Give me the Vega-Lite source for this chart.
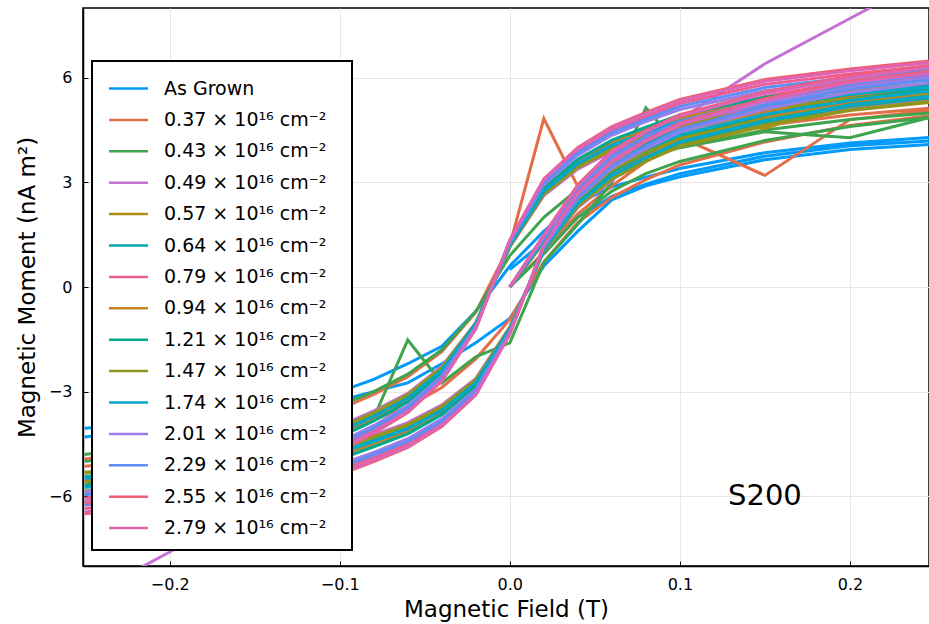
{
"$schema": "https://vega.github.io/schema/vega-lite/v6.json",
"width": 846, "height": 558,
"autosize": {"type": "none"},
"padding": {"left": 83, "top": 8, "right": 0, "bottom": 58},
"background": "white",
"config": {
  "font": "DejaVu Sans",
  "view": {"stroke": "black", "strokeWidth": 1.5},
  "legend": {"strokeWidth": 2},
  "axis": {"grid": true, "gridColor": "#e6e6e6", "gridWidth": 1, "domainColor": "black", "domainWidth": 1.5, "tickColor": "black", "tickSize": -5, "labelFont": "DejaVu Sans", "labelFontSize": 16, "labelColor": "black", "titleFont": "DejaVu Sans", "titleFontSize": 23, "titleFontWeight": "normal", "titleColor": "black"}
},
"layer": [
{
"data": {"values": [
{"s":"AG","x":0,"y":0.5},{"s":"AG","x":0.02,"y":1.3},{"s":"AG","x":0.04,"y":2.0},{"s":"AG","x":0.06,"y":2.6},{"s":"AG","x":0.08,"y":2.95},{"s":"AG","x":0.1,"y":3.25},{"s":"AG","x":0.15,"y":3.75},{"s":"AG","x":0.2,"y":4.05},{"s":"AG","x":0.25,"y":4.2},
{"s":"AG","x":0.25,"y":4.3},{"s":"AG","x":0.2,"y":4.13},{"s":"AG","x":0.15,"y":3.85},{"s":"AG","x":0.1,"y":3.4},{"s":"AG","x":0.08,"y":3.15},{"s":"AG","x":0.06,"y":2.87},{"s":"AG","x":0.04,"y":2.4},{"s":"AG","x":0.02,"y":1.6},{"s":"AG","x":0,"y":0.6},{"s":"AG","x":-0.02,"y":-0.7},{"s":"AG","x":-0.04,"y":-1.7},{"s":"AG","x":-0.06,"y":-2.2},{"s":"AG","x":-0.08,"y":-2.65},{"s":"AG","x":-0.1,"y":-3.0},{"s":"AG","x":-0.15,"y":-3.5},{"s":"AG","x":-0.2,"y":-3.85},{"s":"AG","x":-0.25,"y":-4.05},
{"s":"AG","b":"a","x":-0.25,"y":-4.3},{"s":"AG","b":"a","x":-0.2,"y":-4.0},{"s":"AG","b":"a","x":-0.15,"y":-3.7},{"s":"AG","b":"a","x":-0.1,"y":-3.25},{"s":"AG","b":"a","x":-0.08,"y":-3.0},{"s":"AG","b":"a","x":-0.06,"y":-2.75},{"s":"AG","b":"a","x":-0.04,"y":-2.2},{"s":"AG","b":"a","x":-0.02,"y":-1.6},{"s":"AG","b":"a","x":0,"y":-0.9},{"s":"AG","b":"a","x":0.02,"y":0.6},{"s":"AG","b":"a","x":0.04,"y":1.6},{"s":"AG","b":"a","x":0.06,"y":2.5},{"s":"AG","b":"a","x":0.08,"y":2.9},{"s":"AG","b":"a","x":0.1,"y":3.16},{"s":"AG","b":"a","x":0.15,"y":3.65},{"s":"AG","b":"a","x":0.2,"y":3.94},{"s":"AG","b":"a","x":0.25,"y":4.1},

{"s":"0.37","x":0,"y":0},{"s":"0.37","x":0.02,"y":1.0},{"s":"0.37","x":0.04,"y":2.1},{"s":"0.37","x":0.06,"y":2.9},{"s":"0.37","x":0.08,"y":3.6},{"s":"0.37","x":0.1,"y":4.3},{"s":"0.37","x":0.15,"y":3.2},{"s":"0.37","x":0.2,"y":4.8},{"s":"0.37","x":0.25,"y":5.08},
{"s":"0.37","x":0.25,"y":5.14},{"s":"0.37","x":0.2,"y":4.93},{"s":"0.37","x":0.15,"y":4.63},{"s":"0.37","x":0.1,"y":4.11},{"s":"0.37","x":0.08,"y":3.8},{"s":"0.37","x":0.06,"y":3.44},{"s":"0.37","x":0.04,"y":2.88},{"s":"0.37","x":0.02,"y":4.83},{"s":"0.37","x":0,"y":1.2},{"s":"0.37","x":-0.02,"y":-0.72},{"s":"0.37","x":-0.04,"y":-1.85},{"s":"0.37","x":-0.06,"y":-2.57},{"s":"0.37","x":-0.08,"y":-3.08},{"s":"0.37","x":-0.1,"y":-3.5},{"s":"0.37","x":-0.15,"y":-4.16},{"s":"0.37","x":-0.2,"y":-4.63},{"s":"0.37","x":-0.25,"y":-4.93},
{"s":"0.37","b":"a","x":-0.25,"y":-5.14},{"s":"0.37","b":"a","x":-0.2,"y":-4.93},{"s":"0.37","b":"a","x":-0.15,"y":-4.63},{"s":"0.37","b":"a","x":-0.1,"y":-4.11},{"s":"0.37","b":"a","x":-0.08,"y":-3.8},{"s":"0.37","b":"a","x":-0.06,"y":-3.44},{"s":"0.37","b":"a","x":-0.04,"y":-2.88},{"s":"0.37","b":"a","x":-0.02,"y":-2.06},{"s":"0.37","b":"a","x":0,"y":-0.93},{"s":"0.37","b":"a","x":0.02,"y":0.72},{"s":"0.37","b":"a","x":0.04,"y":1.85},{"s":"0.37","b":"a","x":0.06,"y":2.57},{"s":"0.37","b":"a","x":0.08,"y":3.08},{"s":"0.37","b":"a","x":0.1,"y":3.5},{"s":"0.37","b":"a","x":0.15,"y":4.16},{"s":"0.37","b":"a","x":0.2,"y":4.63},{"s":"0.37","b":"a","x":0.25,"y":4.93},

{"s":"0.43","x":0,"y":0},{"s":"0.43","x":0.02,"y":0.95},{"s":"0.43","x":0.04,"y":2.0},{"s":"0.43","x":0.06,"y":2.75},{"s":"0.43","x":0.08,"y":3.25},{"s":"0.43","x":0.1,"y":3.6},{"s":"0.43","x":0.15,"y":4.2},{"s":"0.43","x":0.2,"y":4.6},{"s":"0.43","x":0.25,"y":4.88},
{"s":"0.43","x":0.25,"y":5.0},{"s":"0.43","x":0.2,"y":4.8},{"s":"0.43","x":0.15,"y":4.5},{"s":"0.43","x":0.1,"y":4.0},{"s":"0.43","x":0.08,"y":3.7},{"s":"0.43","x":0.06,"y":3.35},{"s":"0.43","x":0.04,"y":2.8},{"s":"0.43","x":0.02,"y":2.0},{"s":"0.43","x":0,"y":0.9},{"s":"0.43","x":-0.02,"y":-0.7},{"s":"0.43","x":-0.04,"y":-1.8},{"s":"0.43","x":-0.06,"y":-2.5},{"s":"0.43","x":-0.08,"y":-3.0},{"s":"0.43","x":-0.1,"y":-3.4},{"s":"0.43","x":-0.15,"y":-4.05},{"s":"0.43","x":-0.2,"y":-4.5},{"s":"0.43","x":-0.25,"y":-4.8},
{"s":"0.43","b":"a","x":-0.25,"y":-5.0},{"s":"0.43","b":"a","x":-0.2,"y":-4.8},{"s":"0.43","b":"a","x":-0.15,"y":-4.5},{"s":"0.43","b":"a","x":-0.1,"y":-4.0},{"s":"0.43","b":"a","x":-0.08,"y":-3.75},{"s":"0.43","b":"a","x":-0.06,"y":-1.52},{"s":"0.43","b":"a","x":-0.04,"y":-2.75},{"s":"0.43","b":"a","x":-0.02,"y":-2.0},{"s":"0.43","b":"a","x":0,"y":-1.6},{"s":"0.43","b":"a","x":0.02,"y":0.7},{"s":"0.43","b":"a","x":0.04,"y":1.8},{"s":"0.43","b":"a","x":0.06,"y":3.0},{"s":"0.43","b":"a","x":0.08,"y":5.14},{"s":"0.43","b":"a","x":0.1,"y":4.0},{"s":"0.43","b":"a","x":0.15,"y":4.45},{"s":"0.43","b":"a","x":0.2,"y":4.28},{"s":"0.43","b":"a","x":0.25,"y":4.9},

{"s":"0.49","x":0,"y":0},{"s":"0.49","x":0.02,"y":1.27},{"s":"0.49","x":0.04,"y":2.48},{"s":"0.49","x":0.06,"y":3.3},{"s":"0.49","x":0.08,"y":3.8},{"s":"0.49","x":0.1,"y":4.18},{"s":"0.49","x":0.15,"y":4.73},{"s":"0.49","x":0.2,"y":5.12},{"s":"0.49","x":0.25,"y":5.39},
{"s":"0.49","x":0.25,"y":5.5},{"s":"0.49","x":0.2,"y":5.29},{"s":"0.49","x":0.15,"y":5.03},{"s":"0.49","x":0.1,"y":4.55},{"s":"0.49","x":0.08,"y":4.24},{"s":"0.49","x":0.06,"y":3.89},{"s":"0.49","x":0.04,"y":3.38},{"s":"0.49","x":0.02,"y":2.62},{"s":"0.49","x":0,"y":1.14},{"s":"0.49","x":-0.02,"y":-1.02},{"s":"0.49","x":-0.04,"y":-2.28},{"s":"0.49","x":-0.06,"y":-3.05},{"s":"0.49","x":-0.08,"y":-3.55},{"s":"0.49","x":-0.1,"y":-3.98},{"s":"0.49","x":-0.15,"y":-4.7},{"s":"0.49","x":-0.2,"y":-5.2},{"s":"0.49","x":-0.25,"y":-5.5},
{"s":"0.49","b":"a","x":-0.25,"y":-8.9},{"s":"0.49","b":"a","x":-0.2,"y":-7.6},{"s":"0.49","b":"a","x":-0.15,"y":-6.3},{"s":"0.49","b":"a","x":-0.1,"y":-4.55},{"s":"0.49","b":"a","x":-0.08,"y":-4.24},{"s":"0.49","b":"a","x":-0.06,"y":-3.89},{"s":"0.49","b":"a","x":-0.04,"y":-3.38},{"s":"0.49","b":"a","x":-0.02,"y":-2.62},{"s":"0.49","b":"a","x":0,"y":-1.14},{"s":"0.49","b":"a","x":0.02,"y":1.02},{"s":"0.49","b":"a","x":0.04,"y":2.28},{"s":"0.49","b":"a","x":0.06,"y":3.05},{"s":"0.49","b":"a","x":0.08,"y":3.9},{"s":"0.49","b":"a","x":0.1,"y":4.8},{"s":"0.49","b":"a","x":0.15,"y":6.4},{"s":"0.49","b":"a","x":0.2,"y":7.7},{"s":"0.49","b":"a","x":0.25,"y":9.0},

{"s":"0.57","x":0,"y":0},{"s":"0.57","x":0.02,"y":1.28},{"s":"0.57","x":0.04,"y":2.51},{"s":"0.57","x":0.06,"y":3.34},{"s":"0.57","x":0.08,"y":3.84},{"s":"0.57","x":0.1,"y":4.7},{"s":"0.57","x":0.15,"y":4.55},{"s":"0.57","x":0.2,"y":5.3},{"s":"0.57","x":0.25,"y":5.5},
{"s":"0.57","x":0.25,"y":5.57},{"s":"0.57","x":0.2,"y":5.36},{"s":"0.57","x":0.15,"y":5.1},{"s":"0.57","x":0.1,"y":4.61},{"s":"0.57","x":0.08,"y":4.29},{"s":"0.57","x":0.06,"y":3.94},{"s":"0.57","x":0.04,"y":3.43},{"s":"0.57","x":0.02,"y":2.66},{"s":"0.57","x":0,"y":1.16},{"s":"0.57","x":-0.02,"y":-1.03},{"s":"0.57","x":-0.04,"y":-2.31},{"s":"0.57","x":-0.06,"y":-3.09},{"s":"0.57","x":-0.08,"y":-3.6},{"s":"0.57","x":-0.1,"y":-4.03},{"s":"0.57","x":-0.15,"y":-4.62},{"s":"0.57","x":-0.2,"y":-5.06},{"s":"0.57","x":-0.25,"y":-5.31},
{"s":"0.57","b":"a","x":-0.25,"y":-5.57},{"s":"0.57","b":"a","x":-0.2,"y":-5.36},{"s":"0.57","b":"a","x":-0.15,"y":-5.1},{"s":"0.57","b":"a","x":-0.1,"y":-4.61},{"s":"0.57","b":"a","x":-0.08,"y":-4.29},{"s":"0.57","b":"a","x":-0.06,"y":-3.94},{"s":"0.57","b":"a","x":-0.04,"y":-3.43},{"s":"0.57","b":"a","x":-0.02,"y":-2.66},{"s":"0.57","b":"a","x":0,"y":-1.16},{"s":"0.57","b":"a","x":0.02,"y":1.03},{"s":"0.57","b":"a","x":0.04,"y":2.31},{"s":"0.57","b":"a","x":0.06,"y":3.09},{"s":"0.57","b":"a","x":0.08,"y":3.6},{"s":"0.57","b":"a","x":0.1,"y":4.03},{"s":"0.57","b":"a","x":0.15,"y":4.62},{"s":"0.57","b":"a","x":0.2,"y":5.06},{"s":"0.57","b":"a","x":0.25,"y":5.31},

{"s":"0.64","x":0,"y":0},{"s":"0.64","x":0.02,"y":1.31},{"s":"0.64","x":0.04,"y":2.57},{"s":"0.64","x":0.06,"y":3.42},{"s":"0.64","x":0.08,"y":3.93},{"s":"0.64","x":0.1,"y":4.33},{"s":"0.64","x":0.15,"y":4.9},{"s":"0.64","x":0.2,"y":5.3},{"s":"0.64","x":0.25,"y":5.59},
{"s":"0.64","x":0.25,"y":5.7},{"s":"0.64","x":0.2,"y":5.48},{"s":"0.64","x":0.15,"y":5.22},{"s":"0.64","x":0.1,"y":4.72},{"s":"0.64","x":0.08,"y":4.39},{"s":"0.64","x":0.06,"y":4.04},{"s":"0.64","x":0.04,"y":3.51},{"s":"0.64","x":0.02,"y":2.72},{"s":"0.64","x":0,"y":1.19},{"s":"0.64","x":-0.02,"y":-1.05},{"s":"0.64","x":-0.04,"y":-2.37},{"s":"0.64","x":-0.06,"y":-3.16},{"s":"0.64","x":-0.08,"y":-3.68},{"s":"0.64","x":-0.1,"y":-4.12},{"s":"0.64","x":-0.15,"y":-4.73},{"s":"0.64","x":-0.2,"y":-5.18},{"s":"0.64","x":-0.25,"y":-5.44},
{"s":"0.64","b":"a","x":-0.25,"y":-5.7},{"s":"0.64","b":"a","x":-0.2,"y":-5.48},{"s":"0.64","b":"a","x":-0.15,"y":-5.22},{"s":"0.64","b":"a","x":-0.1,"y":-4.72},{"s":"0.64","b":"a","x":-0.08,"y":-4.39},{"s":"0.64","b":"a","x":-0.06,"y":-4.04},{"s":"0.64","b":"a","x":-0.04,"y":-3.51},{"s":"0.64","b":"a","x":-0.02,"y":-2.72},{"s":"0.64","b":"a","x":0,"y":-1.19},{"s":"0.64","b":"a","x":0.02,"y":1.05},{"s":"0.64","b":"a","x":0.04,"y":2.37},{"s":"0.64","b":"a","x":0.06,"y":3.16},{"s":"0.64","b":"a","x":0.08,"y":3.68},{"s":"0.64","b":"a","x":0.1,"y":4.12},{"s":"0.64","b":"a","x":0.15,"y":4.73},{"s":"0.64","b":"a","x":0.2,"y":5.18},{"s":"0.64","b":"a","x":0.25,"y":5.44},

{"s":"0.79","x":0,"y":0},{"s":"0.79","x":0.02,"y":1.46},{"s":"0.79","x":0.04,"y":2.86},{"s":"0.79","x":0.06,"y":3.81},{"s":"0.79","x":0.08,"y":4.38},{"s":"0.79","x":0.1,"y":4.83},{"s":"0.79","x":0.15,"y":5.46},{"s":"0.79","x":0.2,"y":5.91},{"s":"0.79","x":0.25,"y":6.22},
{"s":"0.79","x":0.25,"y":6.35},{"s":"0.79","x":0.2,"y":6.11},{"s":"0.79","x":0.15,"y":5.81},{"s":"0.79","x":0.1,"y":5.26},{"s":"0.79","x":0.08,"y":4.89},{"s":"0.79","x":0.06,"y":4.5},{"s":"0.79","x":0.04,"y":3.91},{"s":"0.79","x":0.02,"y":3.03},{"s":"0.79","x":0,"y":1.32},{"s":"0.79","x":-0.02,"y":-1.17},{"s":"0.79","x":-0.04,"y":-2.64},{"s":"0.79","x":-0.06,"y":-3.52},{"s":"0.79","x":-0.08,"y":-4.1},{"s":"0.79","x":-0.1,"y":-4.59},{"s":"0.79","x":-0.15,"y":-5.27},{"s":"0.79","x":-0.2,"y":-5.77},{"s":"0.79","x":-0.25,"y":-6.06},
{"s":"0.79","b":"a","x":-0.25,"y":-6.35},{"s":"0.79","b":"a","x":-0.2,"y":-6.11},{"s":"0.79","b":"a","x":-0.15,"y":-5.81},{"s":"0.79","b":"a","x":-0.1,"y":-5.26},{"s":"0.79","b":"a","x":-0.08,"y":-4.89},{"s":"0.79","b":"a","x":-0.06,"y":-4.5},{"s":"0.79","b":"a","x":-0.04,"y":-3.91},{"s":"0.79","b":"a","x":-0.02,"y":-3.03},{"s":"0.79","b":"a","x":0,"y":-1.32},{"s":"0.79","b":"a","x":0.02,"y":1.17},{"s":"0.79","b":"a","x":0.04,"y":2.64},{"s":"0.79","b":"a","x":0.06,"y":3.52},{"s":"0.79","b":"a","x":0.08,"y":4.1},{"s":"0.79","b":"a","x":0.1,"y":4.59},{"s":"0.79","b":"a","x":0.15,"y":5.27},{"s":"0.79","b":"a","x":0.2,"y":5.77},{"s":"0.79","b":"a","x":0.25,"y":6.06},

{"s":"0.94","x":0,"y":0},{"s":"0.94","x":0.02,"y":1.35},{"s":"0.94","x":0.04,"y":2.63},{"s":"0.94","x":0.06,"y":3.51},{"s":"0.94","x":0.08,"y":4.04},{"s":"0.94","x":0.1,"y":4.45},{"s":"0.94","x":0.15,"y":5.03},{"s":"0.94","x":0.2,"y":5.44},{"s":"0.94","x":0.25,"y":5.73},
{"s":"0.94","x":0.25,"y":5.85},{"s":"0.94","x":0.2,"y":5.63},{"s":"0.94","x":0.15,"y":5.35},{"s":"0.94","x":0.1,"y":4.84},{"s":"0.94","x":0.08,"y":4.5},{"s":"0.94","x":0.06,"y":4.14},{"s":"0.94","x":0.04,"y":3.6},{"s":"0.94","x":0.02,"y":2.79},{"s":"0.94","x":0,"y":1.22},{"s":"0.94","x":-0.02,"y":-1.08},{"s":"0.94","x":-0.04,"y":-2.43},{"s":"0.94","x":-0.06,"y":-3.24},{"s":"0.94","x":-0.08,"y":-3.78},{"s":"0.94","x":-0.1,"y":-4.23},{"s":"0.94","x":-0.15,"y":-4.86},{"s":"0.94","x":-0.2,"y":-5.31},{"s":"0.94","x":-0.25,"y":-5.58},
{"s":"0.94","b":"a","x":-0.25,"y":-5.85},{"s":"0.94","b":"a","x":-0.2,"y":-5.63},{"s":"0.94","b":"a","x":-0.15,"y":-5.35},{"s":"0.94","b":"a","x":-0.1,"y":-4.84},{"s":"0.94","b":"a","x":-0.08,"y":-4.5},{"s":"0.94","b":"a","x":-0.06,"y":-4.14},{"s":"0.94","b":"a","x":-0.04,"y":-3.6},{"s":"0.94","b":"a","x":-0.02,"y":-2.79},{"s":"0.94","b":"a","x":0,"y":-1.22},{"s":"0.94","b":"a","x":0.02,"y":1.08},{"s":"0.94","b":"a","x":0.04,"y":2.43},{"s":"0.94","b":"a","x":0.06,"y":3.24},{"s":"0.94","b":"a","x":0.08,"y":3.78},{"s":"0.94","b":"a","x":0.1,"y":4.23},{"s":"0.94","b":"a","x":0.15,"y":4.86},{"s":"0.94","b":"a","x":0.2,"y":5.31},{"s":"0.94","b":"a","x":0.25,"y":5.58},

{"s":"1.21","x":0,"y":0},{"s":"1.21","x":0.02,"y":1.37},{"s":"1.21","x":0.04,"y":2.68},{"s":"1.21","x":0.06,"y":3.57},{"s":"1.21","x":0.08,"y":4.11},{"s":"1.21","x":0.1,"y":4.52},{"s":"1.21","x":0.15,"y":5.12},{"s":"1.21","x":0.2,"y":5.53},{"s":"1.21","x":0.25,"y":5.83},
{"s":"1.21","x":0.25,"y":5.95},{"s":"1.21","x":0.2,"y":5.72},{"s":"1.21","x":0.15,"y":5.44},{"s":"1.21","x":0.1,"y":4.93},{"s":"1.21","x":0.08,"y":4.58},{"s":"1.21","x":0.06,"y":4.21},{"s":"1.21","x":0.04,"y":3.66},{"s":"1.21","x":0.02,"y":2.84},{"s":"1.21","x":0,"y":1.24},{"s":"1.21","x":-0.02,"y":-1.1},{"s":"1.21","x":-0.04,"y":-2.47},{"s":"1.21","x":-0.06,"y":-3.3},{"s":"1.21","x":-0.08,"y":-3.84},{"s":"1.21","x":-0.1,"y":-4.3},{"s":"1.21","x":-0.15,"y":-4.94},{"s":"1.21","x":-0.2,"y":-5.4},{"s":"1.21","x":-0.25,"y":-5.68},
{"s":"1.21","b":"a","x":-0.25,"y":-5.95},{"s":"1.21","b":"a","x":-0.2,"y":-5.72},{"s":"1.21","b":"a","x":-0.15,"y":-5.44},{"s":"1.21","b":"a","x":-0.1,"y":-4.93},{"s":"1.21","b":"a","x":-0.08,"y":-4.58},{"s":"1.21","b":"a","x":-0.06,"y":-4.21},{"s":"1.21","b":"a","x":-0.04,"y":-3.66},{"s":"1.21","b":"a","x":-0.02,"y":-2.84},{"s":"1.21","b":"a","x":0,"y":-1.24},{"s":"1.21","b":"a","x":0.02,"y":1.1},{"s":"1.21","b":"a","x":0.04,"y":2.47},{"s":"1.21","b":"a","x":0.06,"y":3.3},{"s":"1.21","b":"a","x":0.08,"y":3.84},{"s":"1.21","b":"a","x":0.1,"y":4.3},{"s":"1.21","b":"a","x":0.15,"y":4.94},{"s":"1.21","b":"a","x":0.2,"y":5.4},{"s":"1.21","b":"a","x":0.25,"y":5.68},

{"s":"1.47","x":0,"y":0},{"s":"1.47","x":0.02,"y":1.29},{"s":"1.47","x":0.04,"y":2.52},{"s":"1.47","x":0.06,"y":3.36},{"s":"1.47","x":0.08,"y":3.86},{"s":"1.47","x":0.1,"y":4.26},{"s":"1.47","x":0.15,"y":4.82},{"s":"1.47","x":0.2,"y":5.21},{"s":"1.47","x":0.25,"y":5.49},
{"s":"1.47","x":0.25,"y":5.6},{"s":"1.47","x":0.2,"y":5.39},{"s":"1.47","x":0.15,"y":5.12},{"s":"1.47","x":0.1,"y":4.64},{"s":"1.47","x":0.08,"y":4.31},{"s":"1.47","x":0.06,"y":3.96},{"s":"1.47","x":0.04,"y":3.44},{"s":"1.47","x":0.02,"y":2.67},{"s":"1.47","x":0,"y":1.16},{"s":"1.47","x":-0.02,"y":-1.04},{"s":"1.47","x":-0.04,"y":-2.32},{"s":"1.47","x":-0.06,"y":-3.1},{"s":"1.47","x":-0.08,"y":-3.62},{"s":"1.47","x":-0.1,"y":-4.05},{"s":"1.47","x":-0.15,"y":-4.65},{"s":"1.47","x":-0.2,"y":-5.08},{"s":"1.47","x":-0.25,"y":-5.34},
{"s":"1.47","b":"a","x":-0.25,"y":-5.6},{"s":"1.47","b":"a","x":-0.2,"y":-5.39},{"s":"1.47","b":"a","x":-0.15,"y":-5.12},{"s":"1.47","b":"a","x":-0.1,"y":-4.64},{"s":"1.47","b":"a","x":-0.08,"y":-4.31},{"s":"1.47","b":"a","x":-0.06,"y":-3.96},{"s":"1.47","b":"a","x":-0.04,"y":-3.44},{"s":"1.47","b":"a","x":-0.02,"y":-2.67},{"s":"1.47","b":"a","x":0,"y":-1.16},{"s":"1.47","b":"a","x":0.02,"y":1.04},{"s":"1.47","b":"a","x":0.04,"y":2.32},{"s":"1.47","b":"a","x":0.06,"y":3.1},{"s":"1.47","b":"a","x":0.08,"y":3.62},{"s":"1.47","b":"a","x":0.1,"y":4.05},{"s":"1.47","b":"a","x":0.15,"y":4.65},{"s":"1.47","b":"a","x":0.2,"y":5.08},{"s":"1.47","b":"a","x":0.25,"y":5.34},

{"s":"1.74","x":0,"y":0},{"s":"1.74","x":0.02,"y":1.32},{"s":"1.74","x":0.04,"y":2.59},{"s":"1.74","x":0.06,"y":3.45},{"s":"1.74","x":0.08,"y":3.97},{"s":"1.74","x":0.1,"y":4.37},{"s":"1.74","x":0.15,"y":4.95},{"s":"1.74","x":0.2,"y":5.35},{"s":"1.74","x":0.25,"y":5.64},
{"s":"1.74","x":0.25,"y":5.75},{"s":"1.74","x":0.2,"y":5.53},{"s":"1.74","x":0.15,"y":5.26},{"s":"1.74","x":0.1,"y":4.76},{"s":"1.74","x":0.08,"y":4.43},{"s":"1.74","x":0.06,"y":4.07},{"s":"1.74","x":0.04,"y":3.54},{"s":"1.74","x":0.02,"y":2.74},{"s":"1.74","x":0,"y":1.2},{"s":"1.74","x":-0.02,"y":-1.06},{"s":"1.74","x":-0.04,"y":-2.39},{"s":"1.74","x":-0.06,"y":-3.19},{"s":"1.74","x":-0.08,"y":-3.71},{"s":"1.74","x":-0.1,"y":-4.16},{"s":"1.74","x":-0.15,"y":-4.77},{"s":"1.74","x":-0.2,"y":-5.22},{"s":"1.74","x":-0.25,"y":-5.49},
{"s":"1.74","b":"a","x":-0.25,"y":-5.75},{"s":"1.74","b":"a","x":-0.2,"y":-5.53},{"s":"1.74","b":"a","x":-0.15,"y":-5.26},{"s":"1.74","b":"a","x":-0.1,"y":-4.76},{"s":"1.74","b":"a","x":-0.08,"y":-4.43},{"s":"1.74","b":"a","x":-0.06,"y":-4.07},{"s":"1.74","b":"a","x":-0.04,"y":-3.54},{"s":"1.74","b":"a","x":-0.02,"y":-2.74},{"s":"1.74","b":"a","x":0,"y":-1.2},{"s":"1.74","b":"a","x":0.02,"y":1.06},{"s":"1.74","b":"a","x":0.04,"y":2.39},{"s":"1.74","b":"a","x":0.06,"y":3.19},{"s":"1.74","b":"a","x":0.08,"y":3.71},{"s":"1.74","b":"a","x":0.1,"y":4.16},{"s":"1.74","b":"a","x":0.15,"y":4.77},{"s":"1.74","b":"a","x":0.2,"y":5.22},{"s":"1.74","b":"a","x":0.25,"y":5.49},

{"s":"2.01","x":0,"y":0},{"s":"2.01","x":0.02,"y":1.41},{"s":"2.01","x":0.04,"y":2.77},{"s":"2.01","x":0.06,"y":3.69},{"s":"2.01","x":0.08,"y":4.24},{"s":"2.01","x":0.1,"y":4.67},{"s":"2.01","x":0.15,"y":5.29},{"s":"2.01","x":0.2,"y":5.72},{"s":"2.01","x":0.25,"y":6.03},
{"s":"2.01","x":0.25,"y":6.15},{"s":"2.01","x":0.2,"y":5.92},{"s":"2.01","x":0.15,"y":5.63},{"s":"2.01","x":0.1,"y":5.09},{"s":"2.01","x":0.08,"y":4.74},{"s":"2.01","x":0.06,"y":4.35},{"s":"2.01","x":0.04,"y":3.78},{"s":"2.01","x":0.02,"y":2.93},{"s":"2.01","x":0,"y":1.28},{"s":"2.01","x":-0.02,"y":-1.14},{"s":"2.01","x":-0.04,"y":-2.55},{"s":"2.01","x":-0.06,"y":-3.41},{"s":"2.01","x":-0.08,"y":-3.97},{"s":"2.01","x":-0.1,"y":-4.45},{"s":"2.01","x":-0.15,"y":-5.1},{"s":"2.01","x":-0.2,"y":-5.58},{"s":"2.01","x":-0.25,"y":-5.87},
{"s":"2.01","b":"a","x":-0.25,"y":-6.15},{"s":"2.01","b":"a","x":-0.2,"y":-5.92},{"s":"2.01","b":"a","x":-0.15,"y":-5.63},{"s":"2.01","b":"a","x":-0.1,"y":-5.09},{"s":"2.01","b":"a","x":-0.08,"y":-4.74},{"s":"2.01","b":"a","x":-0.06,"y":-4.35},{"s":"2.01","b":"a","x":-0.04,"y":-3.78},{"s":"2.01","b":"a","x":-0.02,"y":-2.93},{"s":"2.01","b":"a","x":0,"y":-1.28},{"s":"2.01","b":"a","x":0.02,"y":1.14},{"s":"2.01","b":"a","x":0.04,"y":2.55},{"s":"2.01","b":"a","x":0.06,"y":3.41},{"s":"2.01","b":"a","x":0.08,"y":3.97},{"s":"2.01","b":"a","x":0.1,"y":4.45},{"s":"2.01","b":"a","x":0.15,"y":5.1},{"s":"2.01","b":"a","x":0.2,"y":5.58},{"s":"2.01","b":"a","x":0.25,"y":5.87},

{"s":"2.29","x":0,"y":0},{"s":"2.29","x":0.02,"y":1.44},{"s":"2.29","x":0.04,"y":2.81},{"s":"2.29","x":0.06,"y":3.75},{"s":"2.29","x":0.08,"y":4.31},{"s":"2.29","x":0.1,"y":4.75},{"s":"2.29","x":0.15,"y":5.38},{"s":"2.29","x":0.2,"y":5.81},{"s":"2.29","x":0.25,"y":6.13},
{"s":"2.29","x":0.25,"y":6.25},{"s":"2.29","x":0.2,"y":6.01},{"s":"2.29","x":0.15,"y":5.72},{"s":"2.29","x":0.1,"y":5.18},{"s":"2.29","x":0.08,"y":4.81},{"s":"2.29","x":0.06,"y":4.43},{"s":"2.29","x":0.04,"y":3.84},{"s":"2.29","x":0.02,"y":2.98},{"s":"2.29","x":0,"y":1.3},{"s":"2.29","x":-0.02,"y":-1.16},{"s":"2.29","x":-0.04,"y":-2.59},{"s":"2.29","x":-0.06,"y":-3.46},{"s":"2.29","x":-0.08,"y":-4.04},{"s":"2.29","x":-0.1,"y":-4.52},{"s":"2.29","x":-0.15,"y":-5.19},{"s":"2.29","x":-0.2,"y":-5.68},{"s":"2.29","x":-0.25,"y":-5.96},
{"s":"2.29","b":"a","x":-0.25,"y":-6.25},{"s":"2.29","b":"a","x":-0.2,"y":-6.01},{"s":"2.29","b":"a","x":-0.15,"y":-5.72},{"s":"2.29","b":"a","x":-0.1,"y":-5.18},{"s":"2.29","b":"a","x":-0.08,"y":-4.81},{"s":"2.29","b":"a","x":-0.06,"y":-4.43},{"s":"2.29","b":"a","x":-0.04,"y":-3.84},{"s":"2.29","b":"a","x":-0.02,"y":-2.98},{"s":"2.29","b":"a","x":0,"y":-1.3},{"s":"2.29","b":"a","x":0.02,"y":1.16},{"s":"2.29","b":"a","x":0.04,"y":2.59},{"s":"2.29","b":"a","x":0.06,"y":3.46},{"s":"2.29","b":"a","x":0.08,"y":4.04},{"s":"2.29","b":"a","x":0.1,"y":4.52},{"s":"2.29","b":"a","x":0.15,"y":5.19},{"s":"2.29","b":"a","x":0.2,"y":5.68},{"s":"2.29","b":"a","x":0.25,"y":5.96},

{"s":"2.55","x":0,"y":0},{"s":"2.55","x":0.02,"y":1.5},{"s":"2.55","x":0.04,"y":2.93},{"s":"2.55","x":0.06,"y":3.9},{"s":"2.55","x":0.08,"y":4.49},{"s":"2.55","x":0.1,"y":4.94},{"s":"2.55","x":0.15,"y":5.59},{"s":"2.55","x":0.2,"y":6.05},{"s":"2.55","x":0.25,"y":6.37},
{"s":"2.55","x":0.25,"y":6.5},{"s":"2.55","x":0.2,"y":6.25},{"s":"2.55","x":0.15,"y":5.95},{"s":"2.55","x":0.1,"y":5.38},{"s":"2.55","x":0.08,"y":5.01},{"s":"2.55","x":0.06,"y":4.6},{"s":"2.55","x":0.04,"y":4.0},{"s":"2.55","x":0.02,"y":3.1},{"s":"2.55","x":0,"y":1.35},{"s":"2.55","x":-0.02,"y":-1.2},{"s":"2.55","x":-0.04,"y":-2.7},{"s":"2.55","x":-0.06,"y":-3.6},{"s":"2.55","x":-0.08,"y":-4.2},{"s":"2.55","x":-0.1,"y":-4.7},{"s":"2.55","x":-0.15,"y":-5.4},{"s":"2.55","x":-0.2,"y":-5.9},{"s":"2.55","x":-0.25,"y":-6.2},
{"s":"2.55","b":"a","x":-0.25,"y":-6.5},{"s":"2.55","b":"a","x":-0.2,"y":-6.25},{"s":"2.55","b":"a","x":-0.15,"y":-5.95},{"s":"2.55","b":"a","x":-0.1,"y":-5.38},{"s":"2.55","b":"a","x":-0.08,"y":-5.01},{"s":"2.55","b":"a","x":-0.06,"y":-4.6},{"s":"2.55","b":"a","x":-0.04,"y":-4.0},{"s":"2.55","b":"a","x":-0.02,"y":-3.1},{"s":"2.55","b":"a","x":0,"y":-1.35},{"s":"2.55","b":"a","x":0.02,"y":1.2},{"s":"2.55","b":"a","x":0.04,"y":2.7},{"s":"2.55","b":"a","x":0.06,"y":3.6},{"s":"2.55","b":"a","x":0.08,"y":4.2},{"s":"2.55","b":"a","x":0.1,"y":4.7},{"s":"2.55","b":"a","x":0.15,"y":5.4},{"s":"2.55","b":"a","x":0.2,"y":5.9},{"s":"2.55","b":"a","x":0.25,"y":6.2},

{"s":"2.79","x":0,"y":0},{"s":"2.79","x":0.02,"y":1.48},{"s":"2.79","x":0.04,"y":2.9},{"s":"2.79","x":0.06,"y":3.87},{"s":"2.79","x":0.08,"y":4.45},{"s":"2.79","x":0.1,"y":4.9},{"s":"2.79","x":0.15,"y":5.55},{"s":"2.79","x":0.2,"y":6.0},{"s":"2.79","x":0.25,"y":6.32},
{"s":"2.79","x":0.25,"y":6.45},{"s":"2.79","x":0.2,"y":6.2},{"s":"2.79","x":0.15,"y":5.9},{"s":"2.79","x":0.1,"y":5.34},{"s":"2.79","x":0.08,"y":4.97},{"s":"2.79","x":0.06,"y":4.57},{"s":"2.79","x":0.04,"y":3.97},{"s":"2.79","x":0.02,"y":3.08},{"s":"2.79","x":0,"y":1.34},{"s":"2.79","x":-0.02,"y":-1.19},{"s":"2.79","x":-0.04,"y":-2.68},{"s":"2.79","x":-0.06,"y":-3.57},{"s":"2.79","x":-0.08,"y":-4.17},{"s":"2.79","x":-0.1,"y":-4.66},{"s":"2.79","x":-0.15,"y":-5.35},{"s":"2.79","x":-0.2,"y":-5.86},{"s":"2.79","x":-0.25,"y":-6.15},
{"s":"2.79","b":"a","x":-0.25,"y":-6.45},{"s":"2.79","b":"a","x":-0.2,"y":-6.2},{"s":"2.79","b":"a","x":-0.15,"y":-5.9},{"s":"2.79","b":"a","x":-0.1,"y":-5.34},{"s":"2.79","b":"a","x":-0.08,"y":-4.97},{"s":"2.79","b":"a","x":-0.06,"y":-4.57},{"s":"2.79","b":"a","x":-0.04,"y":-3.97},{"s":"2.79","b":"a","x":-0.02,"y":-3.08},{"s":"2.79","b":"a","x":0,"y":-1.34},{"s":"2.79","b":"a","x":0.02,"y":1.19},{"s":"2.79","b":"a","x":0.04,"y":2.68},{"s":"2.79","b":"a","x":0.06,"y":3.57},{"s":"2.79","b":"a","x":0.08,"y":4.17},{"s":"2.79","b":"a","x":0.1,"y":4.66},{"s":"2.79","b":"a","x":0.15,"y":5.35},{"s":"2.79","b":"a","x":0.2,"y":5.86},{"s":"2.79","b":"a","x":0.25,"y":6.15}
]},
"mark": {"type": "line", "strokeWidth": 3, "clip": true},
"encoding": {
  "x": {"field": "x", "type": "quantitative", "scale": {"domain": [-0.251, 0.2465], "nice": false, "zero": false}, "axis": {"values": [-0.2, -0.1, 0, 0.1, 0.2], "format": ".1f", "title": "Magnetic Field (T)", "labelPadding": 15, "titlePadding": 6}},
  "y": {"field": "y", "type": "quantitative", "scale": {"domain": [-8, 8], "nice": false, "zero": false}, "axis": {"values": [-6, -3, 0, 3, 6], "format": "d", "title": "Magnetic Moment (nA m²)", "labelPadding": 16, "titlePadding": 9}},
  "color": {"field": "s", "type": "nominal",
    "scale": {"domain": ["AG","0.37","0.43","0.49","0.57","0.64","0.79","0.94","1.21","1.47","1.74","2.01","2.29","2.55","2.79"],
              "range": ["#009AFA","#E26F47","#3EA44E","#C371D2","#AC8E18","#00A9AD","#ED5D92","#C68225","#00A98D","#8E971E","#00A8CB","#9B7FE8","#618CF6","#F05F73","#DD65B6"]},
    "legend": {"title": null, "orient": "none", "legendX": 9, "legendY": 53, "strokeColor": "black", "fillColor": "white", "padding": 11, "symbolType": "M-0.7,0H1.9", "symbolSize": 900, "symbolStrokeWidth": 2.5, "labelFontSize": 19, "labelFont": "DejaVu Sans", "labelColor": "black", "labelOffset": 28, "rowPadding": 4.4, "labelLimit": 400,
      "labelExpr": "datum.label == 'AG' ? 'As Grown' : datum.label + ' × 10¹⁶ cm⁻²\u2800'"}},
  "detail": {"field": "b"},
  "order": {"value": null}
}
},
{
"data": {"values": [{"x": 0.15, "y": -6.26, "t": "S200"}]},
"mark": {"type": "text", "fontSize": 29, "align": "center", "baseline": "alphabetic", "font": "DejaVu Sans", "color": "black"},
"encoding": {
  "x": {"field": "x", "type": "quantitative", "scale": {"domain": [-0.251, 0.2465], "nice": false, "zero": false}},
  "y": {"field": "y", "type": "quantitative", "scale": {"domain": [-8, 8], "nice": false, "zero": false}},
  "text": {"field": "t"}
}
}
]
}
